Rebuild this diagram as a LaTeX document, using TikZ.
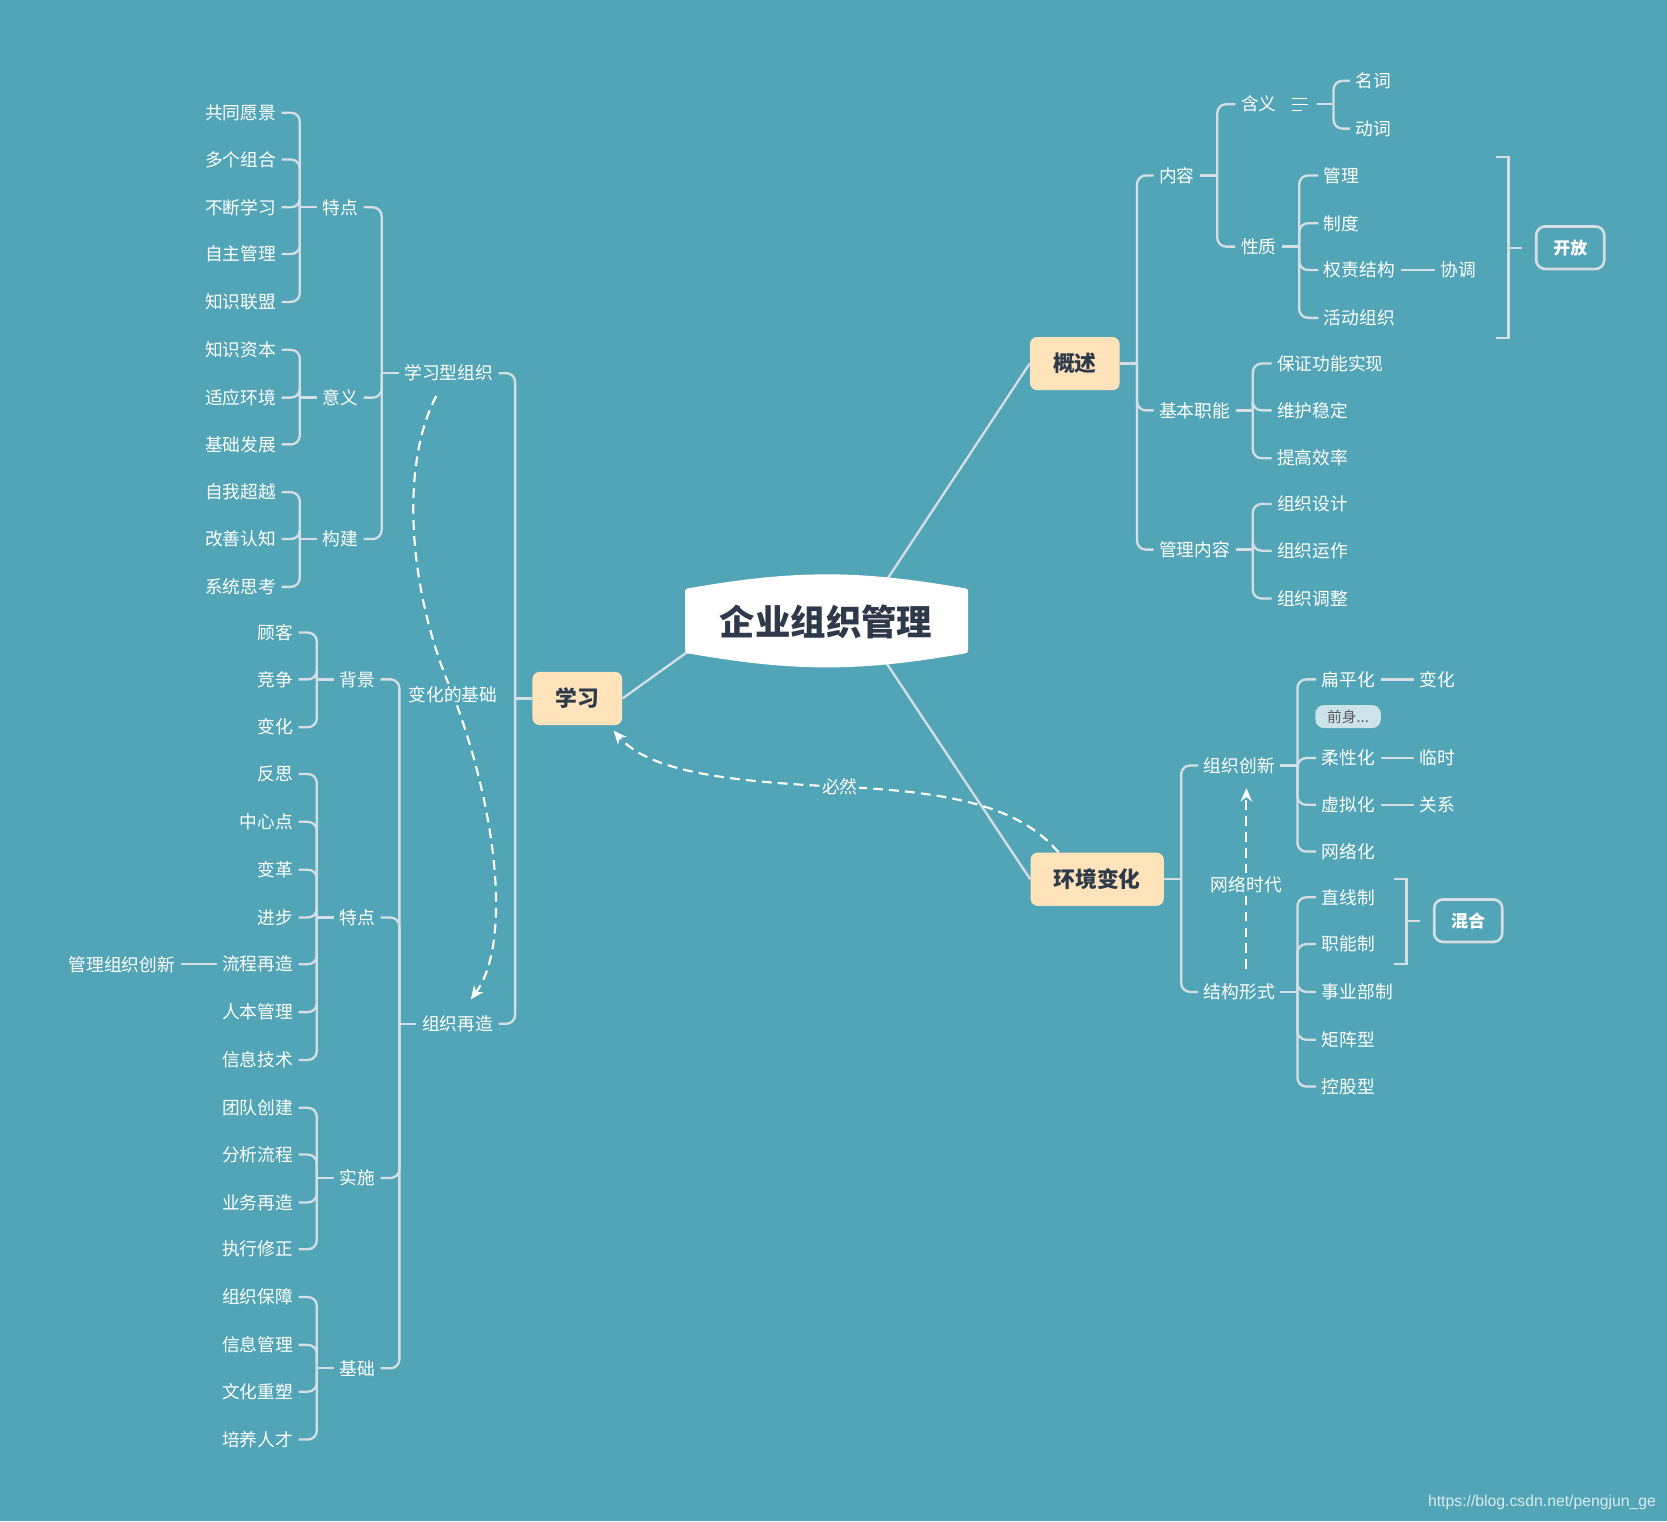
\documentclass[tikz,border=0pt]{standalone}
\usepackage{fontspec}
\setmainfont{Noto Sans CJK SC}
\newfontfamily\wmfont{Liberation Sans}
\usetikzlibrary{arrows.meta}
\definecolor{bgteal}{RGB}{82,165,182}
\definecolor{linegray}{RGB}{214,222,229}
\definecolor{peach}{RGB}{255,227,186}
\definecolor{darktxt}{RGB}{46,58,74}
\definecolor{tagfill}{RGB}{204,227,233}
\begin{document}
\begin{tikzpicture}[x=0.6pt,y=-0.6pt,font=\fontsize{10}{12}\selectfont,
	sub/.style={text=white,inner sep=3pt},
	subR/.style={sub,anchor=west},
	subL/.style={sub,anchor=east},
	topic/.style={fill=peach,text=darktxt,rounded corners=4pt,font=\fontsize{12.3}{14}\selectfont\bfseries,inner xsep=13pt,minimum height=30pt},
	summ/.style={draw=linegray,line width=1.5pt,rounded corners=5pt,text=white,font=\fontsize{9.6}{12}\selectfont\bfseries,inner xsep=9.6pt,minimum height=24pt},
	tag/.style={fill=tagfill,rounded corners=5pt,text=black!65,font=\fontsize{8.3}{9}\selectfont,minimum width=37pt,minimum height=13pt,inner sep=1pt},
	conn/.style={draw=linegray,line width=1.3pt,rounded corners=5pt},
	rel/.style={white,line width=1.2pt,dash pattern=on 5.5pt off 3.5pt,-{Stealth[length=7.5pt,width=6.5pt]}},
	rellab/.style={fill=bgteal,text=white,inner sep=1pt}]
	\fill[bgteal] (0,0) rectangle (1568,1431);
	\useasboundingbox (0,0) rectangle (1568,1431);
	
	\node[topic] (gaishu) at (1011,342) {概述};
	\node[topic] (xuexi) at (543,657) {学习};
	\node[topic] (hjbh) at (1032,827) {环境变化};
	\coordinate (rootR) at (808,585);
	\coordinate (rootL) at (686,585);
	\draw[linegray,line width=1.3pt] (rootR) -- (gaishu.west) (rootR) -- (hjbh.west) (rootL) -- (xuexi.east);
	\filldraw[white,line width=3pt,line join=round] (647,556) to[bend left=10] (908,556) -- (908,612) to[bend left=10] (647,612) -- cycle;
	\node[text=darktxt,font=\fontsize{20}{24}\selectfont\bfseries] (root) at (777,585) {企业组织管理};
	
	% 概述
	\draw[conn] (gaishu.east) -- ++(16,0) coordinate (tGs);
	\node[subR] (neirong) at (1085,165) {内容};
	\node[subR] (jbzn) at (1085,386) {基本职能};
	\node[subR] (glnr) at (1085,517) {管理内容};
	\foreach \c in {neirong,jbzn,glnr} \draw[conn] (tGs) |- (\c.west);
	
	\draw[conn] (neirong.east) -- ++(16,0) coordinate (tNr);
	\node[subR] (hanyi) at (1162,98) {含义};
	\node[subR] (xingzhi) at (1162,232) {性质};
	\foreach \c in {hanyi,xingzhi} \draw[conn] (tNr) |- (\c.west);
	\node[minimum width=19.2pt,minimum height=8pt,inner sep=0] (hyicon) at (1222,98) {};
	\draw[white,line width=0.7pt] (1215,93) -- (1229,93) (1215,98.5) -- (1230,98.5) (1215,104) -- (1225,104);
	\draw[conn] (hyicon.east) -- ++(16,0) coordinate (tHy);
	\foreach \t/\y [count=\i] in {名词/76,动词/121} {
		\node[subR] (hy\i) at (1270,\y) {\t};
		\draw[conn] (tHy) |- (hy\i.west);
	}
	
	\draw[conn] (xingzhi.east) -- ++(16,0) coordinate (tXz);
	\foreach \t/\y [count=\i] in {管理/165,制度/210,权责结构/254,活动组织/299} {
		\node[subR] (xz\i) at (1240,\y) {\t};
		\draw[conn] (tXz) |- (xz\i.west);
	}
	\node[subR] (xietiao) at (1350,254) {协调};
	\draw[conn] (xz3.east) -- (xietiao.west);
	\coordinate (kfTop) at (1407,148);
	\coordinate (kfBot) at (1407,318);
	\node[summ] (kaifang) at (1477,233) {开放};
	\draw[conn,sharp corners] (kfTop) -- ++(12,0) coordinate (kfA) |- (kfBot);
	\draw[conn] (kfA |- kaifang) -- ++(13,0);
	
	\draw[conn] (jbzn.east) -- ++(16,0) coordinate (tJb);
	\foreach \t/\y [count=\i] in {保证功能实现/342,维护稳定/386,提高效率/431} {
		\node[subR] (jb\i) at (1196,\y) {\t};
		\draw[conn] (tJb) |- (jb\i.west);
	}
	\draw[conn] (glnr.east) -- ++(16,0) coordinate (tGl);
	\foreach \t/\y [count=\i] in {组织设计/474,组织运作/518,组织调整/563} {
		\node[subR] (gl\i) at (1196,\y) {\t};
		\draw[conn] (tGl) |- (gl\i.west);
	}
	
	% 环境变化
	\draw[conn] (hjbh.east) -- ++(16,0) coordinate (tHj);
	\node[subR] (zzcx) at (1127,720) {组织创新};
	\node[subR] (jgxs) at (1127,933) {结构形式};
	\foreach \c in {zzcx,jgxs} \draw[conn] (tHj) |- (\c.west);
	
	\draw[conn] (zzcx.east) -- ++(16,0) coordinate (tZc);
	\foreach \t/\y [count=\i] in {扁平化/639,柔性化/713,虚拟化/757,网络化/801} {
		\node[subR] (zc\i) at (1238,\y) {\t};
		\draw[conn] (tZc) |- (zc\i.west);
	}
	\foreach \t/\y/\s in {变化/639/1,临时/713/2,关系/757/3} {
		\node[subR] (zcr\s) at (1330,\y) {\t};
		\draw[conn] (zc\s.east) -- (zcr\s.west);
	}
	\node[tag] (qianshen) at (1268,674) {前身...};
	
	\draw[conn] (jgxs.east) -- ++(16,0) coordinate (tJg);
	\foreach \t/\y [count=\i] in {直线制/844,职能制/888,事业部制/933,矩阵型/978,控股型/1022} {
		\node[subR] (jg\i) at (1238,\y) {\t};
		\draw[conn] (tJg) |- (jg\i.west);
	}
	\coordinate (hhTop) at (1311,827);
	\coordinate (hhBot) at (1311,907);
	\node[summ] (hunhe) at (1381,866) {混合};
	\draw[conn,sharp corners] (hhTop) -- ++(12,0) coordinate (hhA) |- (hhBot);
	\draw[conn] (hhA |- hunhe) -- ++(13,0);
	
	\draw[rel,shorten <=5pt,shorten >=5pt] ([xshift=4pt]jgxs.north) -- node[rellab,pos=0.47] (wlsd) {网络时代} ([xshift=4pt]zzcx.south);
	
	% 学习
	\draw[conn] (xuexi.west) -- ++(-16,0) coordinate (tXx);
	\node[subL] (xxxzz) at (469,351) {学习型组织};
	\node[subL] (zzzz) at (469,963) {组织再造};
	\foreach \c in {xxxzz,zzzz} \draw[conn] (tXx) |- (\c.east);
	
	\draw[conn] (xxxzz.west) -- ++(-16,0) coordinate (tXo);
	\node[subL] (tedianA) at (342,195) {特点};
	\node[subL] (yiyi) at (342,374) {意义};
	\node[subL] (goujian) at (342,507) {构建};
	\foreach \c in {tedianA,yiyi,goujian} \draw[conn] (tXo) |- (\c.east);
	
	\draw[conn] (tedianA.west) -- ++(-16,0) coordinate (tTa);
	\foreach \t/\y [count=\i] in {共同愿景/106,多个组合/150,不断学习/195,自主管理/239,知识联盟/284} {
		\node[subL] (ta\i) at (265,\y) {\t};
		\draw[conn] (tTa) |- (ta\i.east);
	}
	\draw[conn] (yiyi.west) -- ++(-16,0) coordinate (tYy);
	\foreach \t/\y [count=\i] in {知识资本/329,适应环境/374,基础发展/418} {
		\node[subL] (yy\i) at (265,\y) {\t};
		\draw[conn] (tYy) |- (yy\i.east);
	}
	\draw[conn] (goujian.west) -- ++(-16,0) coordinate (tGj);
	\foreach \t/\y [count=\i] in {自我超越/463,改善认知/507,系统思考/552} {
		\node[subL] (gj\i) at (265,\y) {\t};
		\draw[conn] (tGj) |- (gj\i.east);
	}
	
	\draw[conn] (zzzz.west) -- ++(-16,0) coordinate (tZz);
	\node[subL] (beijing) at (358,639) {背景};
	\node[subL] (tedianB) at (358,863) {特点};
	\node[subL] (shishi) at (358,1108) {实施};
	\node[subL] (jichu) at (358,1287) {基础};
	\foreach \c in {beijing,tedianB,shishi,jichu} \draw[conn] (tZz) |- (\c.east);
	
	\draw[conn] (beijing.west) -- ++(-16,0) coordinate (tBj);
	\foreach \t/\y [count=\i] in {顾客/595,竞争/639,变化/684} {
		\node[subL] (bj\i) at (281,\y) {\t};
		\draw[conn] (tBj) |- (bj\i.east);
	}
	\draw[conn] (tedianB.west) -- ++(-16,0) coordinate (tTb);
	\foreach \t/\y [count=\i] in {反思/728,中心点/773,变革/818,进步/863,流程再造/907,人本管理/952,信息技术/997} {
		\node[subL] (tb\i) at (281,\y) {\t};
		\draw[conn] (tTb) |- (tb\i.east);
	}
	\node[subL] (glzzcx) at (170,907) {管理组织创新};
	\draw[conn] (tb5.west) -- (glzzcx.east);
	\draw[conn] (shishi.west) -- ++(-16,0) coordinate (tSs);
	\foreach \t/\y [count=\i] in {团队创建/1042,分析流程/1086,业务再造/1131,执行修正/1175} {
		\node[subL] (ss\i) at (281,\y) {\t};
		\draw[conn] (tSs) |- (ss\i.east);
	}
	\draw[conn] (jichu.west) -- ++(-16,0) coordinate (tJc);
	\foreach \t/\y [count=\i] in {组织保障/1220,信息管理/1265,文化重塑/1309,培养人才/1354} {
		\node[subL] (jc\i) at (281,\y) {\t};
		\draw[conn] (tJc) |- (jc\i.east);
	}
	
	\draw[rel] ([xshift=-7pt,yshift=-5pt]xxxzz.south) .. controls (375,440) and (385,560) .. (426,653) node[rellab] (bhjc) {变化的基础} .. controls (470,770) and (480,890) .. ([xshift=7.5pt,yshift=6pt]zzzz.north);
	\draw[rel] ([xshift=16pt]hjbh.north west) .. controls (960,760) and (900,745) .. (790,740) node[rellab] (biran) {必然} .. controls (680,735) and (610,725) .. ([xshift=-5pt,yshift=-3pt]xuexi.south east);
	
	\node[anchor=east,text=white!78!bgteal,font=\wmfont\fontsize{8.9}{10}\selectfont,inner sep=0] (wm) at (1558,1413) {https://blog.csdn.net/pengjun\_ge};
\end{tikzpicture}
\end{document}
